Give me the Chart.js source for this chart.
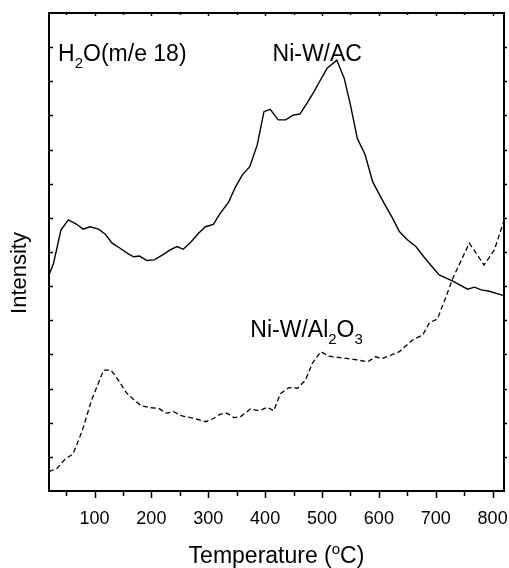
<!DOCTYPE html>
<html>
<head>
<meta charset="utf-8">
<script src="https://cdn.jsdelivr.net/npm/chart.js@4.4.0/dist/chart.umd.min.js"></script>
<style>
  html, body { margin: 0; padding: 0; background: #fff; }
</style>
</head>
<body>
<canvas id="tpdChart" width="509" height="568"></canvas>
<script>
// H2O (m/e 18) TPD profiles (arbitrary intensity units)
const acTemp = [20, 28, 41, 54, 68, 80, 92, 107, 119, 131, 145, 160, 169, 179, 192, 205, 219, 233, 245, 256,
  270, 283, 295, 309, 321, 336, 348, 360, 373, 386, 398, 409, 423, 436, 449, 461, 474, 486, 498, 509,
  526, 539, 550, 562, 576, 589, 609, 624, 636, 650, 665, 679, 691, 706, 730, 756, 768, 780, 794, 820];
const acIntensity = [6.33, 6.67, 7.64, 7.94, 7.82, 7.67, 7.74, 7.67, 7.52, 7.26, 7.11, 6.94, 6.86, 6.88, 6.75, 6.77, 6.91, 7.06, 7.16, 7.08,
  7.30, 7.55, 7.74, 7.81, 8.13, 8.47, 8.91, 9.26, 9.50, 10.13, 11.11, 11.18, 10.87, 10.87, 11.01, 11.04, 11.37, 11.70, 12.06, 12.38,
  12.62, 12.09, 11.31, 10.33, 9.84, 9.06, 8.43, 7.99, 7.60, 7.36, 7.16, 6.86, 6.62, 6.33, 6.15, 5.91, 5.97, 5.89, 5.85, 5.72];

const alTemp = [20, 34, 48, 62, 78, 95, 102, 116, 129, 142, 156, 169, 183, 198, 213, 226, 239, 254, 274, 296,
  310, 321, 333, 345, 357, 374, 389, 404, 415, 427, 442, 457, 471, 483, 498, 512, 539, 562, 580, 594,
  606, 636, 659, 677, 689, 703, 718, 730, 759, 785, 803, 820];
const alIntensity = [0.57, 0.66, 0.93, 1.08, 1.74, 2.67, 2.96, 3.54, 3.54, 3.25, 2.88, 2.67, 2.49, 2.44, 2.42, 2.28, 2.32, 2.20, 2.13, 2.03,
  2.13, 2.25, 2.28, 2.15, 2.18, 2.40, 2.35, 2.45, 2.35, 2.85, 3.03, 3.01, 3.25, 3.74, 4.08, 3.95, 3.89, 3.84, 3.78, 3.93,
  3.88, 4.08, 4.42, 4.57, 4.93, 5.04, 5.69, 6.23, 7.26, 6.62, 7.06, 7.92];

const xTickLabels = [100, 200, 300, 400, 500, 600, 700, 800];

const FONT = '"Liberation Sans", Arial, Helvetica, sans-serif';

function toPoints(xs, ys) {
  return xs.map((x, i) => ({ x: x, y: ys[i] }));
}

// text with sub/superscripts: parts = [[text, 'n'|'sub'|'sup'], ...]
function richWidth(ctx, parts) {
  let w = 0;
  parts.forEach(([txt, kind]) => {
    ctx.font = (kind === 'n' ? 23 : 15) + 'px ' + FONT;
    w += ctx.measureText(txt).width;
  });
  return w;
}
function drawRich(ctx, parts, x, y) {
  let cx = x;
  parts.forEach(([txt, kind]) => {
    ctx.font = (kind === 'n' ? 23 : 15) + 'px ' + FONT;
    const dy = kind === 'sub' ? 7 : (kind === 'sup' ? -9 : 0);
    ctx.fillText(txt, cx, y + dy);
    cx += ctx.measureText(txt).width;
  });
}

// frame, inward/outward tick marks, labels inside the plot and the axis titles
const framePlugin = {
  id: 'frame',
  afterDraw(chart) {
    const { ctx, chartArea: a, scales: { x, y } } = chart;
    ctx.save();
    ctx.strokeStyle = '#000';
    ctx.fillStyle = '#000';
    ctx.lineWidth = 1.5;
    ctx.beginPath();
    for (let v = 50; v <= 800; v += 50) {
      const px = Math.round(x.getPixelForValue(v)) + 0.5;
      const major = v % 100 === 0;
      ctx.moveTo(px, a.bottom);
      ctx.lineTo(px, a.bottom + (major ? 7 : 5));
      ctx.moveTo(px, a.top);
      ctx.lineTo(px, a.top + (major ? 3 : 2));
    }
    for (let v = 1; v < 14; v++) {
      const py = Math.round(y.getPixelForValue(v)) + 0.5;
      ctx.moveTo(a.left, py);
      ctx.lineTo(a.left + 4, py);
      ctx.moveTo(a.right, py);
      ctx.lineTo(a.right + 3, py);
    }
    ctx.stroke();

    ctx.lineWidth = 2;
    ctx.strokeRect(a.left, a.top, a.right - a.left, a.bottom - a.top);

    ctx.textBaseline = 'alphabetic';
    ctx.textAlign = 'left';
    drawRich(ctx, [['H', 'n'], ['2', 'sub'], ['O(m/e 18)', 'n']], x.getPixelForValue(36), y.getPixelForValue(12.6));
    drawRich(ctx, [['Ni-W/AC', 'n']], x.getPixelForValue(413), y.getPixelForValue(12.6));
    drawRich(ctx, [['Ni-W/Al', 'n'], ['2', 'sub'], ['O', 'n'], ['3', 'sub']], x.getPixelForValue(374), y.getPixelForValue(4.52));

    const title = [['Temperature (', 'n'], ['o', 'sup'], ['C)', 'n']];
    const w = richWidth(ctx, title);
    drawRich(ctx, title, (a.left + a.right) / 2 - w / 2, 563);

    // y title sits a little below the middle of the axis in the original
    ctx.translate(26, 273);
    ctx.rotate(-Math.PI / 2);
    ctx.textAlign = 'center';
    ctx.font = '22px ' + FONT;
    ctx.fillText('Intensity', 0, 0);
    ctx.restore();
  }
};

const ctx = document.getElementById('tpdChart').getContext('2d');
const tpdChart = new Chart(ctx, {
  type: 'line',
  data: {
    datasets: [{
      label: 'Ni-W/AC',
      data: toPoints(acTemp, acIntensity),
      borderColor: '#000',
      borderWidth: 1.4,
      pointRadius: 0,
      tension: 0,
      fill: false
    }, {
      label: 'Ni-W/Al2O3',
      data: toPoints(alTemp, alIntensity),
      borderColor: '#000',
      borderWidth: 1.3,
      borderDash: [5, 3],
      pointRadius: 0,
      tension: 0,
      fill: false
    }]
  },
  options: {
    responsive: false,
    animation: false,
    devicePixelRatio: 1,
    layout: { padding: { top: 13, right: 5, left: 0, bottom: 0 } },
    plugins: { legend: { display: false }, tooltip: { enabled: false } },
    scales: {
      x: {
        type: 'linear',
        min: 20,
        max: 820,
        grid: { display: false },
        border: { display: false },
        afterBuildTicks: s => { s.ticks = xTickLabels.map(v => ({ value: v })); },
        afterFit: s => { s.height = 77; s.paddingLeft = 0; s.paddingRight = 0; },
        ticks: {
          color: '#000',
          padding: 9,
          maxRotation: 0,
          autoSkip: false,
          font: { family: FONT, size: 18 }
        }
      },
      y: {
        min: 0,
        max: 14,
        grid: { display: false },
        border: { display: false },
        ticks: { display: false },
        afterFit: s => { s.width = 49; }
      }
    }
  },
  plugins: [framePlugin]
});
</script>
</body>
</html>
